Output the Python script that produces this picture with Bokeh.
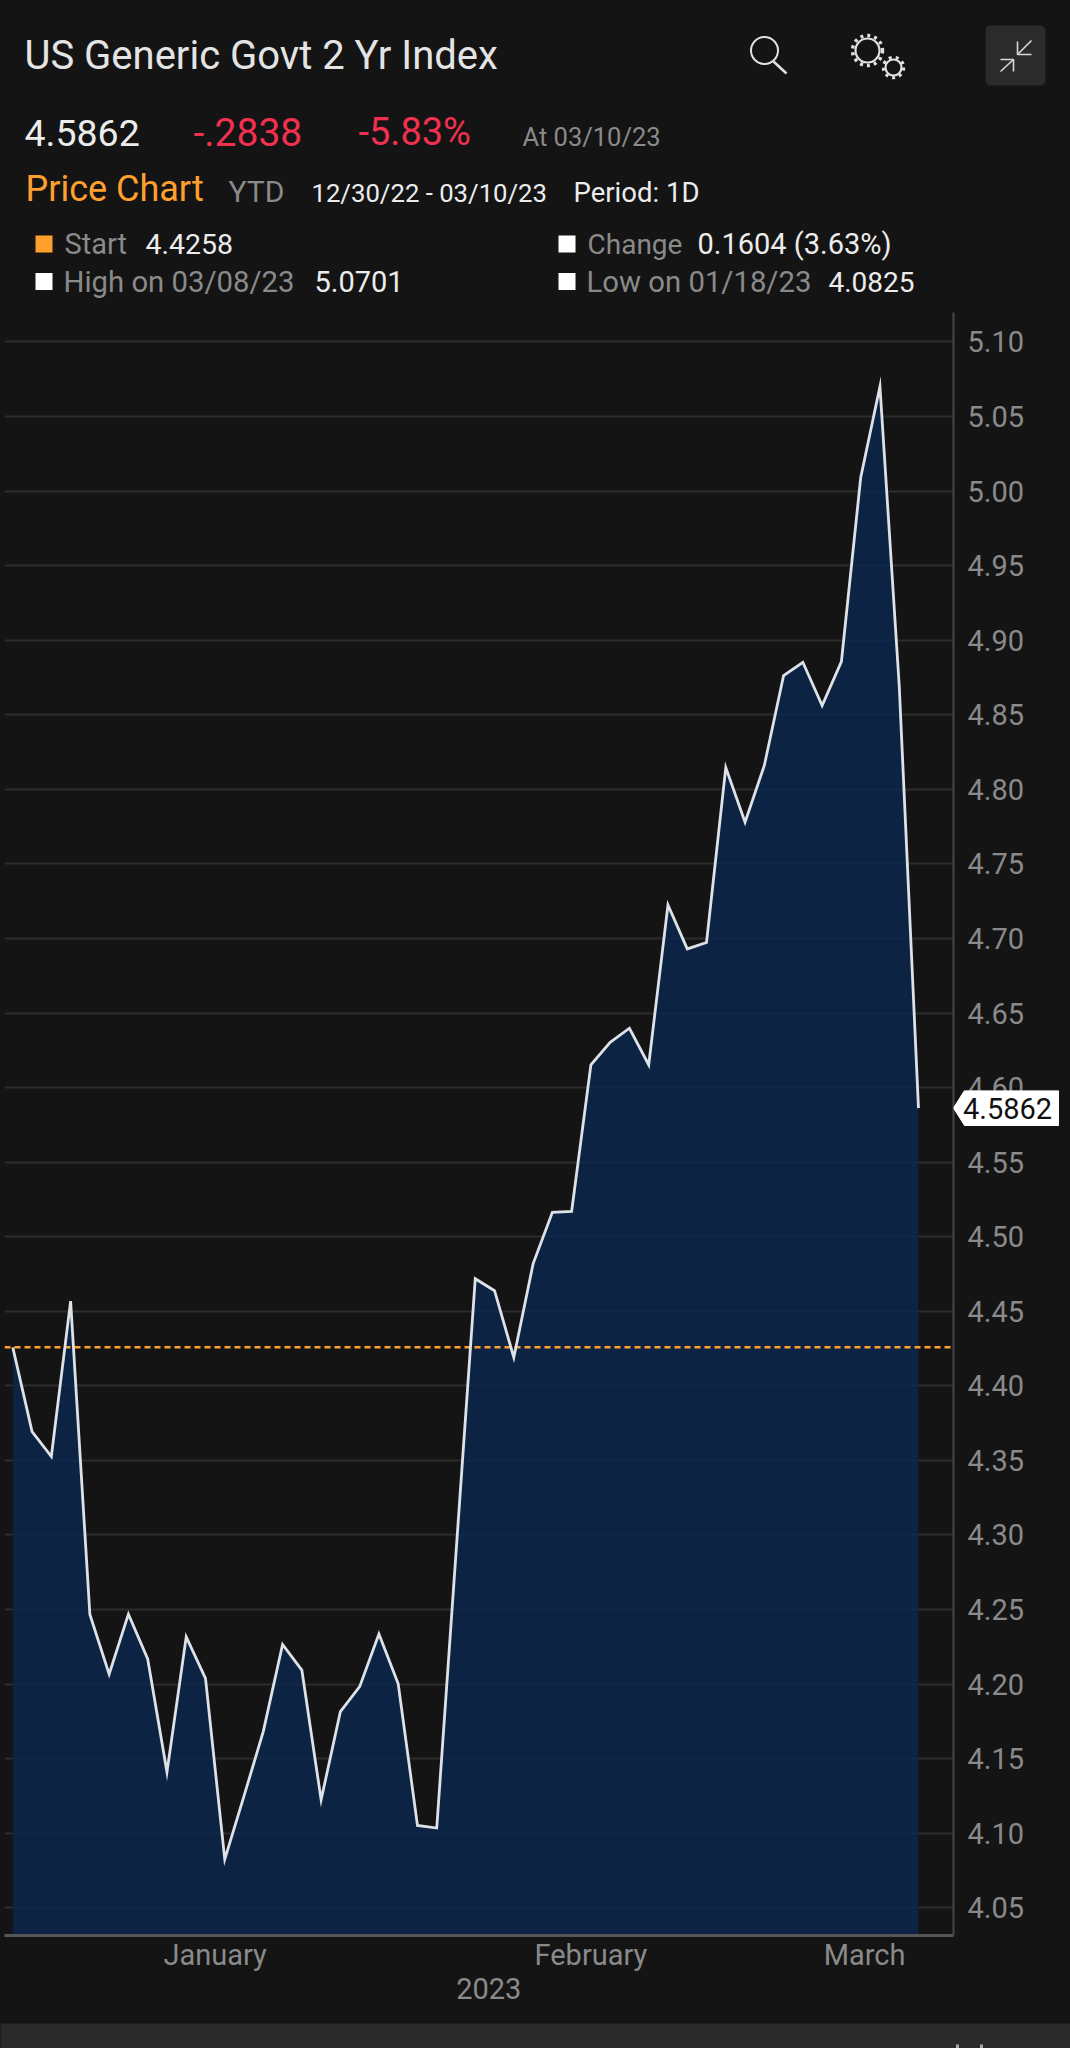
from bokeh.plotting import figure
from bokeh.layouts import column
from bokeh.models import (Range1d, FixedTicker, LinearAxis, BoxAnnotation, GlobalInlineStyleSheet,
                          ColumnDataSource, NumeralTickFormatter)
from bokeh.core.properties import value
from bokeh.embed import file_html
from bokeh.resources import INLINE

# ---------- data ----------
YIELDS = [4.4258, 4.3693, 4.3526, 4.4568, 4.2467, 4.2067, 4.2469, 4.2169, 4.1410, 4.2317,
          4.2039, 4.0825, 4.1250, 4.1683, 4.2266, 4.2094, 4.1224, 4.1816, 4.1983, 4.2336,
          4.2002, 4.1052, 4.1035, 4.2880, 4.4718, 4.4638, 4.4190, 4.4818, 4.5164, 4.5169,
          4.6153, 4.6304, 4.6398, 4.6153, 4.7225, 4.6930, 4.6973, 4.8146, 4.7780, 4.8160,
          4.8763, 4.8852, 4.8562, 4.8857, 5.0089, 5.0701, 4.8696, 4.5862]
SESSIONS = list(range(len(YIELDS)))
START = 4.4258
LAST = "4.5862"
Y_TICKS = [4.05, 4.10, 4.15, 4.20, 4.25, 4.30, 4.35, 4.40, 4.45, 4.50, 4.55, 4.60, 4.65, 4.70,
           4.75, 4.80, 4.85, 4.90, 4.95, 5.00, 5.05, 5.10]
MONTH_POS = [10.5, 30.0, 44.2]
MONTH_NAMES = ["January", "February", "March"]
YEAR_POS = [24.7]
YEAR_NAMES = ["2023"]

BG = "#141414"
FONT = "Roboto"
WHITE = "#ececec"
GREY = "#8a8a8a"
RED = "#f2304f"
ORANGE = "#ffa02e"

# header text: text, x, baseline y, size, colour  (page pixels)
HEADER = [
    ("US Generic Govt 2 Yr Index", 24, 70, 40, "#e4e4e4"),
    ("4.5862", 24, 146, 37.5, WHITE),
    ("-.2838", 193, 146, 39, RED),
    ("-5.83%", 358, 146, 38, RED),
    ("At 03/10/23", 522, 146, 25.5, GREY),
    ("Price Chart", 25, 202, 36, ORANGE),
    ("YTD", 228, 202, 30, GREY),
    ("12/30/22 - 03/10/23", 311, 202, 25.7, WHITE),
    ("Period: 1D", 573, 202, 27.5, WHITE),
    ("Start", 64, 254, 29, GREY),
    ("4.4258", 145, 254, 28.5, WHITE),
    ("Change", 587, 254, 28, GREY),
    ("0.1604 (3.63%)", 697, 254, 29, WHITE),
    ("High on 03/08/23", 63, 292, 29.3, GREY),
    ("5.0701", 314, 292, 29, WHITE),
    ("Low on 01/18/23", 586, 292, 29.3, GREY),
    ("4.0825", 828, 292, 28, WHITE),
]
# legend swatches: x, y, colour
SWATCHES = [(43.5, 243.5, ORANGE), (566.5, 243.5, "#ffffff"), (43.5, 281, "#ffffff"), (566.5, 281, "#ffffff")]

# ---------- header ----------
head = figure(width=1070, height=312, output_backend="svg", toolbar_location=None,
              x_range=Range1d(0, 1070), y_range=Range1d(312, 0), min_border=0, frame_align=False,
              background_fill_color=BG, border_fill_color=BG, outline_line_color=None)
head.axis.visible = False
head.grid.visible = False
for t, x, y, s, c in HEADER:
    head.text([x], [y - 0.37 * s], text=[t], text_font=value(FONT), text_font_size=f"{s}px", text_color=c,
              text_baseline="alphabetic", text_align="left")
head.rect([s[0] for s in SWATCHES], [s[1] for s in SWATCHES], width=17, height=17,
          fill_color=[s[2] for s in SWATCHES], line_color=None)
# magnifier
head.circle([764], [50], radius=13.5, fill_color=None, line_color="#e0e0e0", line_width=2)
head.line([773, 786], [61, 73], line_color="#e0e0e0", line_width=2.5)
# gears
head.circle([867, 893], [50, 67], radius=[12, 8], fill_color=None, line_color="#e0e0e0", line_width=2.2)
head.circle([867, 893], [50, 67], radius=[15, 10], fill_color=None, line_color="#e0e0e0", line_width=3.5,
            line_dash="3 4")
# collapse button
head.add_layout(BoxAnnotation(left=985, right=1045, top=85, bottom=25, fill_color="#2b2b2b", fill_alpha=1,
                              line_color=None, border_radius=5, level="underlay"))
head.multi_line([[1031, 1017], [1017, 1017, 1031], [1000, 1013], [1000, 1013, 1013]],
                [[40, 54], [41, 54, 54], [71, 59], [59, 59, 71]], line_color="#d8d8d8", line_width=1.6)

# ---------- chart ----------
PX_PER_UNIT = 1491.3
Y_TOP = 5.05 + (416 - 312) / PX_PER_UNIT
Y_BOT = 5.05 - (1935 - 416) / PX_PER_UNIT
X_L = (4 - 12.3) / 19.27
X_R = (953 - 12.3) / 19.27

chart = figure(width=1070, height=1711, output_backend="svg", toolbar_location=None,
               x_range=Range1d(X_L, X_R), y_range=Range1d(Y_BOT, Y_TOP), y_axis_location="right",
               min_border_left=4, min_border_top=0, min_border_right=117, min_border_bottom=88,
               frame_align=False,
               background_fill_color=BG, border_fill_color=BG, outline_line_color=None)
src = ColumnDataSource(dict(x=SESSIONS, y=YIELDS))
chart.varea(x="x", y1="y", y2=Y_BOT, source=src, fill_color="#0a2750", fill_alpha=0.8)
chart.line([X_L, X_R], [START, START], line_color=ORANGE, line_width=2.5, line_dash="6 4")
chart.line("x", "y", source=src, line_color="#dde2e8", line_width=2.8, line_join="miter")

yax = chart.yaxis[0]
yax.ticker = FixedTicker(ticks=Y_TICKS)
yax.formatter = NumeralTickFormatter(format="0.00")
yax.major_tick_line_color = None
yax.minor_tick_line_color = None
yax.axis_line_color = "#474747"
yax.axis_line_width = 2
yax.major_label_text_color = GREY
yax.major_label_text_font = FONT
yax.major_label_text_font_size = "29px"
yax.major_label_standoff = 8
xax = chart.xaxis[0]
xax.ticker = FixedTicker(ticks=MONTH_POS)
xax.major_label_overrides = dict(zip(MONTH_POS, MONTH_NAMES))
xax.major_tick_line_color = None
xax.minor_tick_line_color = None
xax.axis_line_color = "#555555"
xax.axis_line_width = 3
xax.major_label_text_color = GREY
xax.major_label_text_font = FONT
xax.major_label_text_font_size = "29px"
xax.major_label_standoff = -4
chart.xgrid.visible = False
chart.ygrid.ticker = FixedTicker(ticks=Y_TICKS)
chart.ygrid.grid_line_color = "#2d2d2d"
chart.ygrid.grid_line_width = 2

year_axis = LinearAxis(ticker=FixedTicker(ticks=YEAR_POS), major_label_overrides=dict(zip(YEAR_POS, YEAR_NAMES)),
                       major_tick_line_color=None, minor_tick_line_color=None, axis_line_color=None,
                       major_label_text_color=GREY, major_label_text_font=FONT,
                       major_label_text_font_size="29px", major_label_standoff=-3)
chart.add_layout(year_axis, "below")

# ---------- footer band ----------
foot = figure(width=1070, height=25, output_backend="svg", toolbar_location=None,
              x_range=Range1d(0, 1070), y_range=Range1d(2048, 2023), min_border=0, frame_align=False,
              background_fill_color="#292929", border_fill_color="#292929", outline_line_color=None)
foot.axis.visible = False
foot.grid.visible = False
foot.multi_line([[957, 957], [981, 981]], [[2044, 2048], [2044, 2048]], line_color="#a8a8a8", line_width=3)

# ---------- last value tag (floats over the axis, at the height of the last value) ----------
tag_top = 312 + (Y_TOP - YIELDS[-1]) * PX_PER_UNIT - 18
tag = figure(width=106, height=36, output_backend="svg", toolbar_location=None,
             x_range=Range1d(0, 106), y_range=Range1d(36, 0), min_border=0, frame_align=False,
             background_fill_alpha=0, border_fill_alpha=0, outline_line_color=None,
             styles={"position": "absolute", "left": "953px", "top": f"{tag_top:.1f}px", "z-index": "5"})
tag.axis.visible = False
tag.grid.visible = False
tag.patch([0, 11, 105, 105, 11], [17.5, 0, 0, 35, 35], fill_color="#ffffff", line_color="#ffffff", line_width=1)
tag.text([54], [18], text=[LAST], text_color="#111111", text_font=value(FONT), text_font_size="29px",
         text_align="center", text_baseline="middle")

p = column(head, chart, foot, tag, spacing=0)
p.stylesheets = [GlobalInlineStyleSheet(css="html,body{background:#141414}")]

open("out.html", "w").write(file_html(p, INLINE))
